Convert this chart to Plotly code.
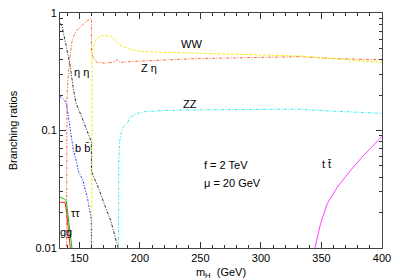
import numpy as np
import plotly.graph_objects as go

# ---- data (m_H in GeV, branching ratios) ----
m_zeta = [139.0, 139.3, 139.8, 141.2, 142.3, 143.5, 145.2, 147.5, 150.6, 154.0, 157.2, 160.0,
          160.0, 161.6, 164.4, 171.0, 177.5, 181.5, 184.0, 192.0, 200.0, 250.0, 300.0, 333.0, 358.0, 400.0]
br_zeta = [0.001, 0.10, 0.20, 0.33, 0.46, 0.55, 0.63, 0.70, 0.76, 0.82, 0.87, 0.90,
           0.46, 0.415, 0.38, 0.375, 0.38, 0.40, 0.38, 0.385, 0.39, 0.41, 0.42, 0.425, 0.41, 0.40]

m_ww = [160.0, 160.0, 160.5, 161.6, 164.4, 168.5, 175.4, 179.5, 183.7, 192.0, 200.0, 250.0,
        300.0, 333.0, 358.0, 382.0, 400.0]
br_ww = [0.001, 0.30, 0.45, 0.52, 0.61, 0.64, 0.64, 0.59, 0.53, 0.49, 0.47, 0.454,
         0.44, 0.43, 0.41, 0.39, 0.38]

m_zz = [182.0, 182.5, 183.2, 184.5, 186.5, 190.0, 192.0, 198.0, 205.0, 220.0, 250.0, 300.0,
        330.0, 360.0, 400.0]
br_zz = [0.001, 0.05, 0.08, 0.095, 0.108, 0.118, 0.13, 0.14, 0.145, 0.148, 0.15, 0.152,
         0.152, 0.146, 0.14]

m_etaeta = [134.0, 135.7, 139.0, 142.3, 144.8, 147.3, 152.0, 156.0, 159.9, 160.0, 163.0,
            166.5, 171.0, 176.0, 182.0, 185.0]
br_etaeta = [0.82, 0.77, 0.53, 0.36, 0.235, 0.17, 0.13, 0.10, 0.08, 0.045, 0.038,
             0.031, 0.023, 0.017, 0.010, 0.008]

m_bb = [134.0, 138.1, 139.5, 142.3, 145.0, 147.3, 149.2, 152.8, 156.9, 159.9, 160.0]
br_bb = [0.195, 0.18, 0.165, 0.10, 0.068, 0.056, 0.045, 0.038, 0.026, 0.0175, 0.001]

m_gg = [134.0, 138.0, 139.2, 143.7, 145.0]
br_gg = [0.027, 0.026, 0.025, 0.010, 0.008]

m_tautau = [134.0, 138.2, 139.5, 142.5, 144.0]
br_tautau = [0.0245, 0.0245, 0.020, 0.010, 0.007]

m_tt = [344.2, 344.6, 349.3, 354.9, 363.1, 374.2, 385.2, 400.0]
br_tt = [0.004, 0.010, 0.0162, 0.024, 0.033, 0.046, 0.062, 0.089]

DD = "3px,1.5px,1px,1.5px"
series = [
    (m_zeta, br_zeta, "#ff6a3a", DD),
    (m_ww, br_ww, "#f2ee20", "3px,1.5px"),
    (m_zz, br_zz, "#30f0f0", DD),
    (m_etaeta, br_etaeta, "#333333", DD),
    (m_bb, br_bb, "#2a2aff", "2px,1.5px,1px,1.5px"),
    (m_tautau, br_tautau, "#ff2020", "solid"),
    (m_gg, br_gg, "#10c010", "solid"),
    (m_tt, br_tt, "#ff40ff", "solid"),
]

fig = go.Figure()
for xs, ys, col, dash in series:
    fig.add_trace(go.Scatter(x=xs, y=ys, mode="lines",
                             line=dict(color=col, width=1, dash=dash),
                             showlegend=False, hoverinfo="skip"))

fnt = dict(family="Liberation Sans, Arial, sans-serif", size=11, color="black")

labels = [
    ("WW", 242.5, 0.545, "center"),
    ("Z η", 207.3, 0.34, "center"),
    ("ZZ", 241.2, 0.168, "center"),
    ("η η", 151.4, 0.315, "center"),
    ("b b\u0304", 152.2, 0.071, "center"),
    ("ττ", 146.4, 0.0199, "center"),
    ("gg", 139.0, 0.0138, "center"),
    ("f = 2 TeV", 251.6, 0.0508, "left"),
    ("μ = 20 GeV", 251.6, 0.0357, "left"),
    ("t t\u0304", 354.3, 0.0518, "center"),
]
for txt, xv, yv, anc in labels:
    fig.add_annotation(x=xv, y=np.log10(yv), text=txt, showarrow=False,
                       xanchor=anc, yanchor="middle", font=fnt)

minor_y = [k * 10.0 ** e for e in (-2, -1) for k in range(2, 10)]

fig.update_layout(
    width=400, height=280,
    margin=dict(l=60, r=18, t=13, b=32),
    plot_bgcolor="white", paper_bgcolor="white",
    font=fnt,
    xaxis=dict(range=[134, 400], tickvals=[150, 200, 250, 300, 350, 400],
               automargin=False,
               ticks="inside", ticklen=6, tickcolor="#333", showgrid=False, zeroline=False,
               showline=True, linecolor="#444", linewidth=1, mirror="ticks",
               minor=dict(ticks="inside", ticklen=3, tickcolor="#333",
                          tickvals=list(range(140, 400, 10))),
               title=dict(text="m<sub>H</sub>  (GeV)", font=fnt),
               tickfont=fnt),
    yaxis=dict(type="log", range=[-2, 0], tickvals=[0.01, 0.1, 1],
               ticktext=["0.01", "0.1", "1"], automargin=False,
               ticks="inside", ticklen=6, tickcolor="#333", showgrid=False, zeroline=False,
               showline=True, linecolor="#444", linewidth=1, mirror="ticks",
               minor=dict(ticks="inside", ticklen=3, tickcolor="#333", tickvals=minor_y),
               title=dict(text="Branching ratios", font=fnt),
               tickfont=fnt),
)

fig.write_html("out.html", config={"displayModeBar": False},
               post_script="document.body.style.margin='0';document.body.style.padding='0';")
